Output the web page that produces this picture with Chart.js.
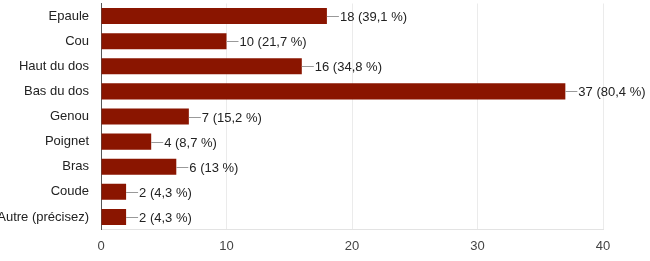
<!DOCTYPE html>
<html>
<head>
<meta charset="utf-8">
<script src="https://cdn.jsdelivr.net/npm/chart.js@4/dist/chart.umd.min.js"></script>
<style>
  body { margin: 0; background: #fff; }
  #chart { display: block; }
</style>
</head>
<body>
<canvas id="chart" width="650" height="261"></canvas>
<script>
const CHART = document.getElementById("chart");

var categories = ['Epaule', 'Cou', 'Haut du dos', 'Bas du dos', 'Genou', 'Poignet', 'Bras', 'Coude', 'Autre (précisez)'];
var counts = [18, 10, 16, 37, 7, 4, 6, 2, 2];
var percents = [39.1, 21.7, 34.8, 80.4, 15.2, 8.7, 13, 4.3, 4.3];
var xTicks = [0, 10, 20, 30, 40];

const FONT = 'Arial, "Liberation Sans", Helvetica, sans-serif';

// label + little leader line to the right of each bar
var valueLabels = {
    id: 'valueLabels',
    afterDatasetsDraw(chart) {
        const ctx = chart.ctx;
        const meta = chart.getDatasetMeta(0);
        ctx.save();
        ctx.font = '13px ' + FONT;
        ctx.textBaseline = 'middle';
        ctx.textAlign = 'left';
        meta.data.forEach(function(bar, i) {
            var x = bar.x, y = Math.round(bar.y) + 0.5;
            ctx.strokeStyle = '#999999';
            ctx.lineWidth = 1;
            ctx.beginPath();
            ctx.moveTo(x, y);
            ctx.lineTo(x + 12, y);
            ctx.stroke();
            ctx.fillStyle = '#222222';
            var txt = counts[i] + ' (' + String(percents[i]).replace('.', ',') + ' %)';
            ctx.fillText(txt, x + 13, y + 0.5);
        });
        ctx.restore();
    }
};

const chart = new Chart(CHART, {
    type: 'bar',
    data: {
        labels: categories,
        datasets: [{
            data: counts,
            backgroundColor: '#8a1500',
            borderWidth: 0,
            categoryPercentage: 1,
            barPercentage: 0.64
        }]
    },
    plugins: [valueLabels],
    options: {
        indexAxis: 'y',
        responsive: false,
        animation: false,
        layout: { padding: { top: 3.5, right: 47, left: 0, bottom: 0 } },
        plugins: {
            legend: { display: false },
            tooltip: { enabled: false }
        },
        scales: {
            x: {
                min: 0,
                max: 40,
                afterBuildTicks: function(scale) {
                    scale.ticks = xTicks.map(function(v) { return { value: v }; });
                },
                afterFit: function(scale) {
                    scale.height = 31.5;
                    scale.paddingLeft = 0;
                    scale.paddingRight = 0;
                },
                grid: { color: '#ebebeb', drawTicks: false },
                border: { color: '#e3e3e3' },
                ticks: {
                    padding: 9,
                    color: '#444444',
                    font: { family: FONT, size: 13 }
                }
            },
            y: {
                afterFit: function(scale) {
                    scale.width = 101;
                    scale.paddingTop = 0;
                    scale.paddingBottom = 0;
                },
                grid: { display: false, drawTicks: false },
                border: { color: '#555555' },
                ticks: {
                    padding: 12,
                    color: '#222222',
                    font: { family: FONT, size: 13 }
                }
            }
        }
    }
});
</script>
</body>
</html>
